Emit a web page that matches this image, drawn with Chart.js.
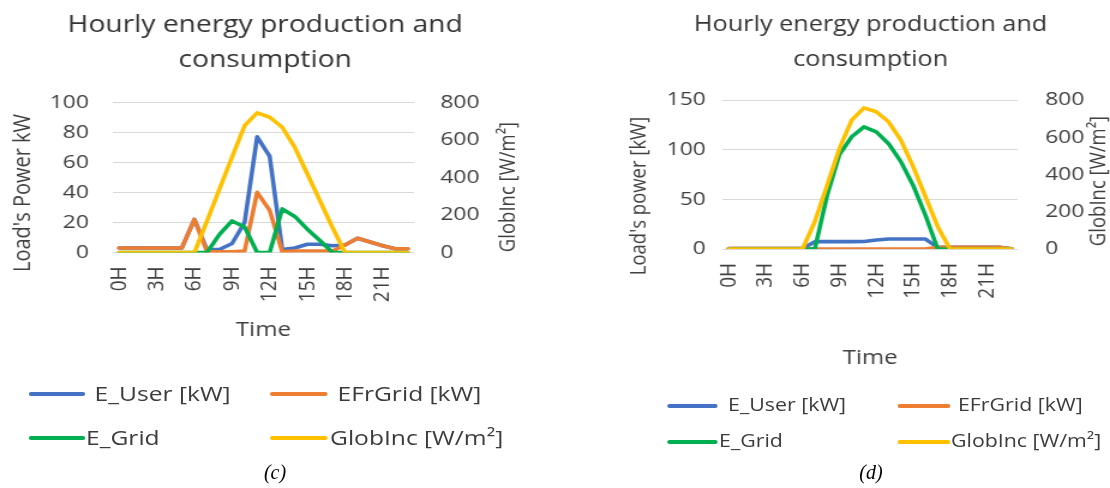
<!DOCTYPE html>
<html>
<head>
<meta charset="utf-8">
<script src="https://cdn.jsdelivr.net/npm/chart.js@4.4.1/dist/chart.umd.min.js"></script>
<style>
  html, body { margin: 0; padding: 0; background: #fff; overflow: hidden; }
  body { width: 1110px; height: 488px; position: relative; font-family: 'Open Sans', sans-serif; }
  /* the source figure is stretched sideways, so the whole panel pair is too */
  #wrap { position: absolute; left: 0; top: 0; width: 925px; height: 488px; transform: scaleX(1.2); transform-origin: 0 0; }
  .box { position: absolute; top: 0; height: 370px; }
  .sw { position: absolute; height: 4px; border-radius: 2px; }
  .lt { position: absolute; color: #3c3c3c; white-space: nowrap; line-height: 1; }
  .cap { position: absolute; top: 461px; font: italic 20px 'Liberation Serif', 'Times New Roman', serif; color: #000; transform: translateX(-50%); }
</style>
</head>
<body>
<div id="wrap">
  <div class="box" style="left:0;width:442px"><canvas id="chartC"></canvas></div>
  <div class="box" style="left:462.5px;width:462.5px"><canvas id="chartD"></canvas></div>
</div>
<div class="cap" style="left:275px">(c)</div>
<div class="cap" style="left:871px">(d)</div>
<script>
const hours = ['0H','1H','2H','3H','4H','5H','6H','7H','8H','9H','10H','11H','12H','13H','14H','15H','16H','17H','18H','19H','20H','21H','22H','23H'];
const tickEvery = 3;

const seriesNames = ['E_User [kW]', 'EFrGrid [kW]', 'E_Grid', 'GlobInc [W/m²]'];
const seriesColors = ['#4472C4', '#ED7D31', '#00B050', '#FFC000'];

// panel (c)
const userC     = [3,3,3,3,3,3,22,2,2,6,20,77,64,2,3,5.5,5.5,4.5,5,9.5,7,4.5,2.5,2.5];
const fromGridC = [3,3,3,3,3,3,22,0.7,0.5,0.5,1,40,28,0.5,1,1,1,1,5,9.5,7,4.5,2.5,2.5];
const gridC     = [0,0,0,0,0,0,0,0,12,21,17,0,0,29,24,15.5,8,0,0,0,0,0,0,0];
const globC     = [0,0,0,0,0,0,0,167,338,508,675,743,720,667,560,418,276,133,0,0,0,0,0,0];

// panel (d)
const userD     = [0.5,0.5,0.5,0.5,0.5,0.5,0.5,7.4,7.4,7.4,7.4,7.6,9,10,10,10,10,1.7,1.7,1.7,1.7,1.7,1.7,0.3];
const fromGridD = [0.5,0.5,0.5,0.5,0.5,0.5,0.5,0,0,0,0,0,0,0,0,0,0,1.7,1.7,1.7,1.7,1.7,1.7,0.3];
const gridD     = [0,0,0,0,0,0,0,0,54,95,113,123,118,106,88,64,34,0,0,0,0,0,0,0];
const globD     = [0,0,0,0,0,0,0,147,343,540,692,758,737,683,585,442,281,120,0,0,0,0,0,0];

const textColor = '#404040';
Chart.defaults.font.family = "'Open Sans', sans-serif";
Chart.defaults.color = textColor;

// y-axis titles read bottom-to-top on both sides, as in Excel
const axisTitles = {
  id: 'axisTitles',
  afterDraw(chart, args, opts) {
    const ctx = chart.ctx;
    opts.items.forEach(t => {
      ctx.save();
      ctx.translate(t.x, t.y);
      ctx.rotate(-Math.PI / 2);
      ctx.font = t.size + "px 'Open Sans'";
      ctx.fillStyle = textColor;
      ctx.textAlign = 'center';
      ctx.textBaseline = 'middle';
      ctx.fillText(t.text, 0, 0);
      ctx.restore();
    });
  }
};

function buildChart(id, series, c) {
  return new Chart(document.getElementById(id), {
    type: 'line',
    data: {
      labels: hours,
      datasets: seriesNames.map((name, i) => ({
        label: name,
        data: series[i],
        yAxisID: i === 3 ? 'y1' : 'y',
        borderColor: seriesColors[i],
        backgroundColor: seriesColors[i],
        borderWidth: 3.6,
        pointRadius: 0,
        tension: 0,
        borderJoinStyle: 'round',
        borderCapStyle: 'round',
        order: 4 - i
      }))
    },
    options: {
      responsive: true,
      maintainAspectRatio: false,
      animation: false,
      events: [],
      layout: { padding: { left: c.padLeft, right: 0, top: 0, bottom: 0 } },
      plugins: {
        legend: { display: false },
        tooltip: { enabled: false },
        title: {
          display: true,
          text: ['Hourly energy production and', 'consumption'],
          color: '#333333',
          font: { size: c.titleSize, weight: 'normal', lineHeight: c.titleLH },
          padding: { top: c.titleTop, bottom: c.titleBottom }
        },
        axisTitles: { items: c.axisTitles }
      },
      scales: {
        x: {
          offset: true,
          grid: { display: false, drawTicks: false },
          border: { display: false },
          ticks: {
            autoSkip: false, minRotation: 90, maxRotation: 90, padding: 14,
            font: { size: 19 },
            callback: function (v, i) { return i % tickEvery === 0 ? this.getLabelForValue(v) : ''; }
          },
          title: { display: true, text: 'Time', font: { size: 20 }, padding: { top: 0, bottom: c.timePad } },
          afterFit: s => { s.height = c.xHeight; }
        },
        y: {
          position: 'left',
          min: 0, max: c.yMax,
          ticks: { stepSize: c.yStep, padding: c.yPad, font: { size: 19 } },
          grid: { color: '#D9D9D9', lineWidth: 1, drawTicks: false },
          border: { display: false },
          afterFit: s => { s.width = c.yWidth; }
        },
        y1: {
          position: 'right',
          min: 0, max: 800,
          ticks: { stepSize: 200, padding: c.y1Pad, font: { size: 19 } },
          grid: { drawOnChartArea: false, drawTicks: false },
          border: { display: false },
          afterFit: s => { s.width = c.y1Width; }
        }
      }
    },
    plugins: [axisTitles]
  });
}

buildChart('chartC', [userC, fromGridC, gridC, globC], {
  padLeft: 0, titleSize: 23.5, titleLH: 1.52, titleTop: 7, titleBottom: 23.8,
  yMax: 100, yStep: 20, yWidth: 94, yPad: 20, y1Width: 97, y1Pad: 22,
  xHeight: 117.5, timePad: 28,
  axisTitles: [
    { text: "Load's Power kW", x: 19, y: 193, size: 20 },
    { text: 'GlobInc [W/m²]', x: 424, y: 187, size: 18.5 }
  ]
});

buildChart('chartD', [userD, fromGridD, gridD, globD], {
  padLeft: 62.5, titleSize: 21, titleLH: 1.66, titleTop: 8, titleBottom: 22.3,
  yMax: 150, yStep: 50, yWidth: 76.7, yPad: 14, y1Width: 77.5, y1Pad: 23,
  xHeight: 121, timePad: 0,
  axisTitles: [
    { text: "Load's power [kW]", x: 70, y: 196, size: 18.5 },
    { text: 'GlobInc [W/m²]', x: 452.5, y: 181, size: 18.5 }
  ]
});

// legends laid out as in the figure: two rows, two columns
const legendLayout = [
  { rows: [394, 438], size: 20.5,
    items: [[23.75, 71.4, 78.8, 0], [225, 272.5, 281.3, 0], [23.75, 71.4, 71.7, 1], [225, 272.5, 275, 1]] },
  { rows: [406, 442], size: 17.8,
    items: [[555.8, 598.3, 606.7, 0], [747.5, 791.7, 798.3, 0], [555.8, 598.3, 599.2, 1], [747.5, 791.7, 792.5, 1]] }
];
const wrap = document.getElementById('wrap');
legendLayout.forEach(L => {
  L.items.forEach((it, i) => {
    const y = L.rows[it[3]];
    const sw = document.createElement('div');
    sw.className = 'sw';
    sw.style.left = it[0] + 'px';
    sw.style.width = (it[1] - it[0]) + 'px';
    sw.style.top = (y - 2) + 'px';
    sw.style.background = seriesColors[i];
    wrap.appendChild(sw);
    const tx = document.createElement('div');
    tx.className = 'lt';
    tx.textContent = seriesNames[i];
    tx.style.left = it[2] + 'px';
    tx.style.top = (y - L.size * 0.55) + 'px';
    tx.style.fontSize = L.size + 'px';
    wrap.appendChild(tx);
  });
});
</script>
</body>
</html>
